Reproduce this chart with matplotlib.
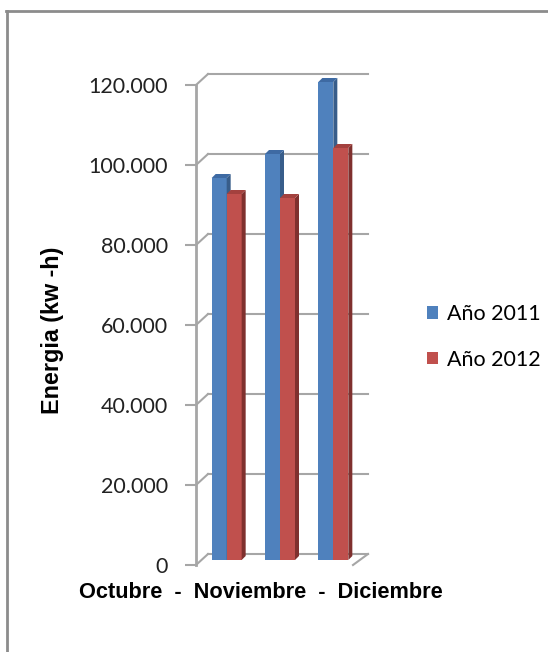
import numpy as np
import matplotlib
matplotlib.use("Agg")
import matplotlib.pyplot as plt
from matplotlib.patches import Polygon, Rectangle
from matplotlib.lines import Line2D

# energy per month, kw-h
months = ["Octubre", "Noviembre", "Diciembre"]
series_labels = ["Año 2011", "Año 2012"]
energy_2011 = [95500, 101500, 119500]
energy_2012 = [91500, 90500, 103000]
yticks = [0, 20000, 40000, 60000, 80000, 100000, 120000]

W, H = 548, 652
fig = plt.figure(figsize=(W / 100, H / 100), dpi=100)

# axes box in pixels: front axis at x=196, value 0 at y=565, 120.000 at y=85
ax = fig.add_axes([196 / W, (H - 565) / H, 160 / W, 480 / H])
ax.set_xlim(0, 3)
ax.set_ylim(0, 120000)
ax.patch.set_visible(False)

# pixel -> data units
px_x = 3 / 160
px_y = 120000 / 480

grid_col = "#a6a6a6"
wall_dx, wall_dy = 12 * px_x, 11 * px_y      # front -> back wall depth
plane_dx, plane_dy = 4 * px_x, 5 * px_y      # front plane of bars
bar_dx, bar_dy = 4 * px_x, 4 * px_y          # bar depth

# back wall gridlines and the diagonals to the front axis
for v in yticks:
    ax.plot([wall_dx, 3 + wall_dx], [v + wall_dy, v + wall_dy], color=grid_col,
            lw=1.5, clip_on=False, zorder=1)
    ax.plot([0, wall_dx], [v, v + wall_dy], color=grid_col, lw=1.5,
            clip_on=False, zorder=1)
ax.plot([3 - 3 * px_x, 3 + wall_dx], [0, wall_dy], color=grid_col, lw=1.5,
        clip_on=False, zorder=1)

# 3d-looking bars
width = 15 * px_x
x = np.arange(len(months)) + 0.5
styles = [
    (energy_2011, x - width, "#4f81bd", "#385d8a", "#3e6aa3"),
    (energy_2012, x, "#c0504d", "#7f302e", "#a3413e"),
]
handles = []
z = 2
for vals, xs, front, side, top in styles:
    for x0, v in zip(xs, vals):
        fx, fy = x0 + plane_dx, plane_dy
        ax.add_patch(Rectangle((fx, fy), width, v, facecolor=front,
                               edgecolor="none", clip_on=False, zorder=z))
        ax.add_patch(Polygon([(fx + width, fy), (fx + width + bar_dx, fy + bar_dy),
                              (fx + width + bar_dx, fy + v + bar_dy), (fx + width, fy + v)],
                             facecolor=side, edgecolor="none", clip_on=False, zorder=z))
        ax.add_patch(Polygon([(fx, fy + v), (fx + width, fy + v),
                              (fx + width + bar_dx, fy + v + bar_dy), (fx + bar_dx, fy + v + bar_dy)],
                             facecolor=top, edgecolor="none", clip_on=False, zorder=z))
    handles.append(Rectangle((0, 0), 1, 1, facecolor=front, edgecolor="none"))
    z += 1

# front value axis
for s in ["top", "right", "bottom"]:
    ax.spines[s].set_visible(False)
ax.spines["left"].set_color(grid_col)
ax.spines["left"].set_linewidth(2)
ax.set_xticks([])
ax.set_yticks(yticks)
ax.set_yticklabels(["{:,}".format(v).replace(",", ".") for v in yticks],
                   fontfamily="Lato", fontsize=15.5, color="#222222")
ax.tick_params(axis="y", length=8, width=1.5, color=grid_col, pad=12)

fig.text(53 / W, 1 - 330 / H, "Energia (kw -h)", rotation=90, ha="center",
         va="center", fontfamily="Liberation Sans", fontweight="bold", fontsize=16.8)
fig.text(261 / W, 1 - 592 / H, "Octubre  -  Noviembre  -  Diciembre", ha="center",
         va="center", fontfamily="Liberation Sans", fontweight="bold", fontsize=15.7)

fig.legend(handles, series_labels, loc="center left",
           bbox_to_anchor=(408 / W, 1 - 337 / H), frameon=False,
           prop={"family": "Lato", "size": 15.5}, handlelength=0.5,
           handleheight=0.5, handletextpad=0.4, labelspacing=1.2)

# outer frame, only top and left edges fall inside the image
fig.add_artist(Line2D([6.5 / W, 6.5 / W], [0, 1 - 11 / H], color="#8c8c8c", lw=2))
fig.add_artist(Line2D([6 / W, 1], [1 - 11 / H, 1 - 11 / H], color="#8c8c8c", lw=2))

fig.savefig("out.png", dpi=100)
